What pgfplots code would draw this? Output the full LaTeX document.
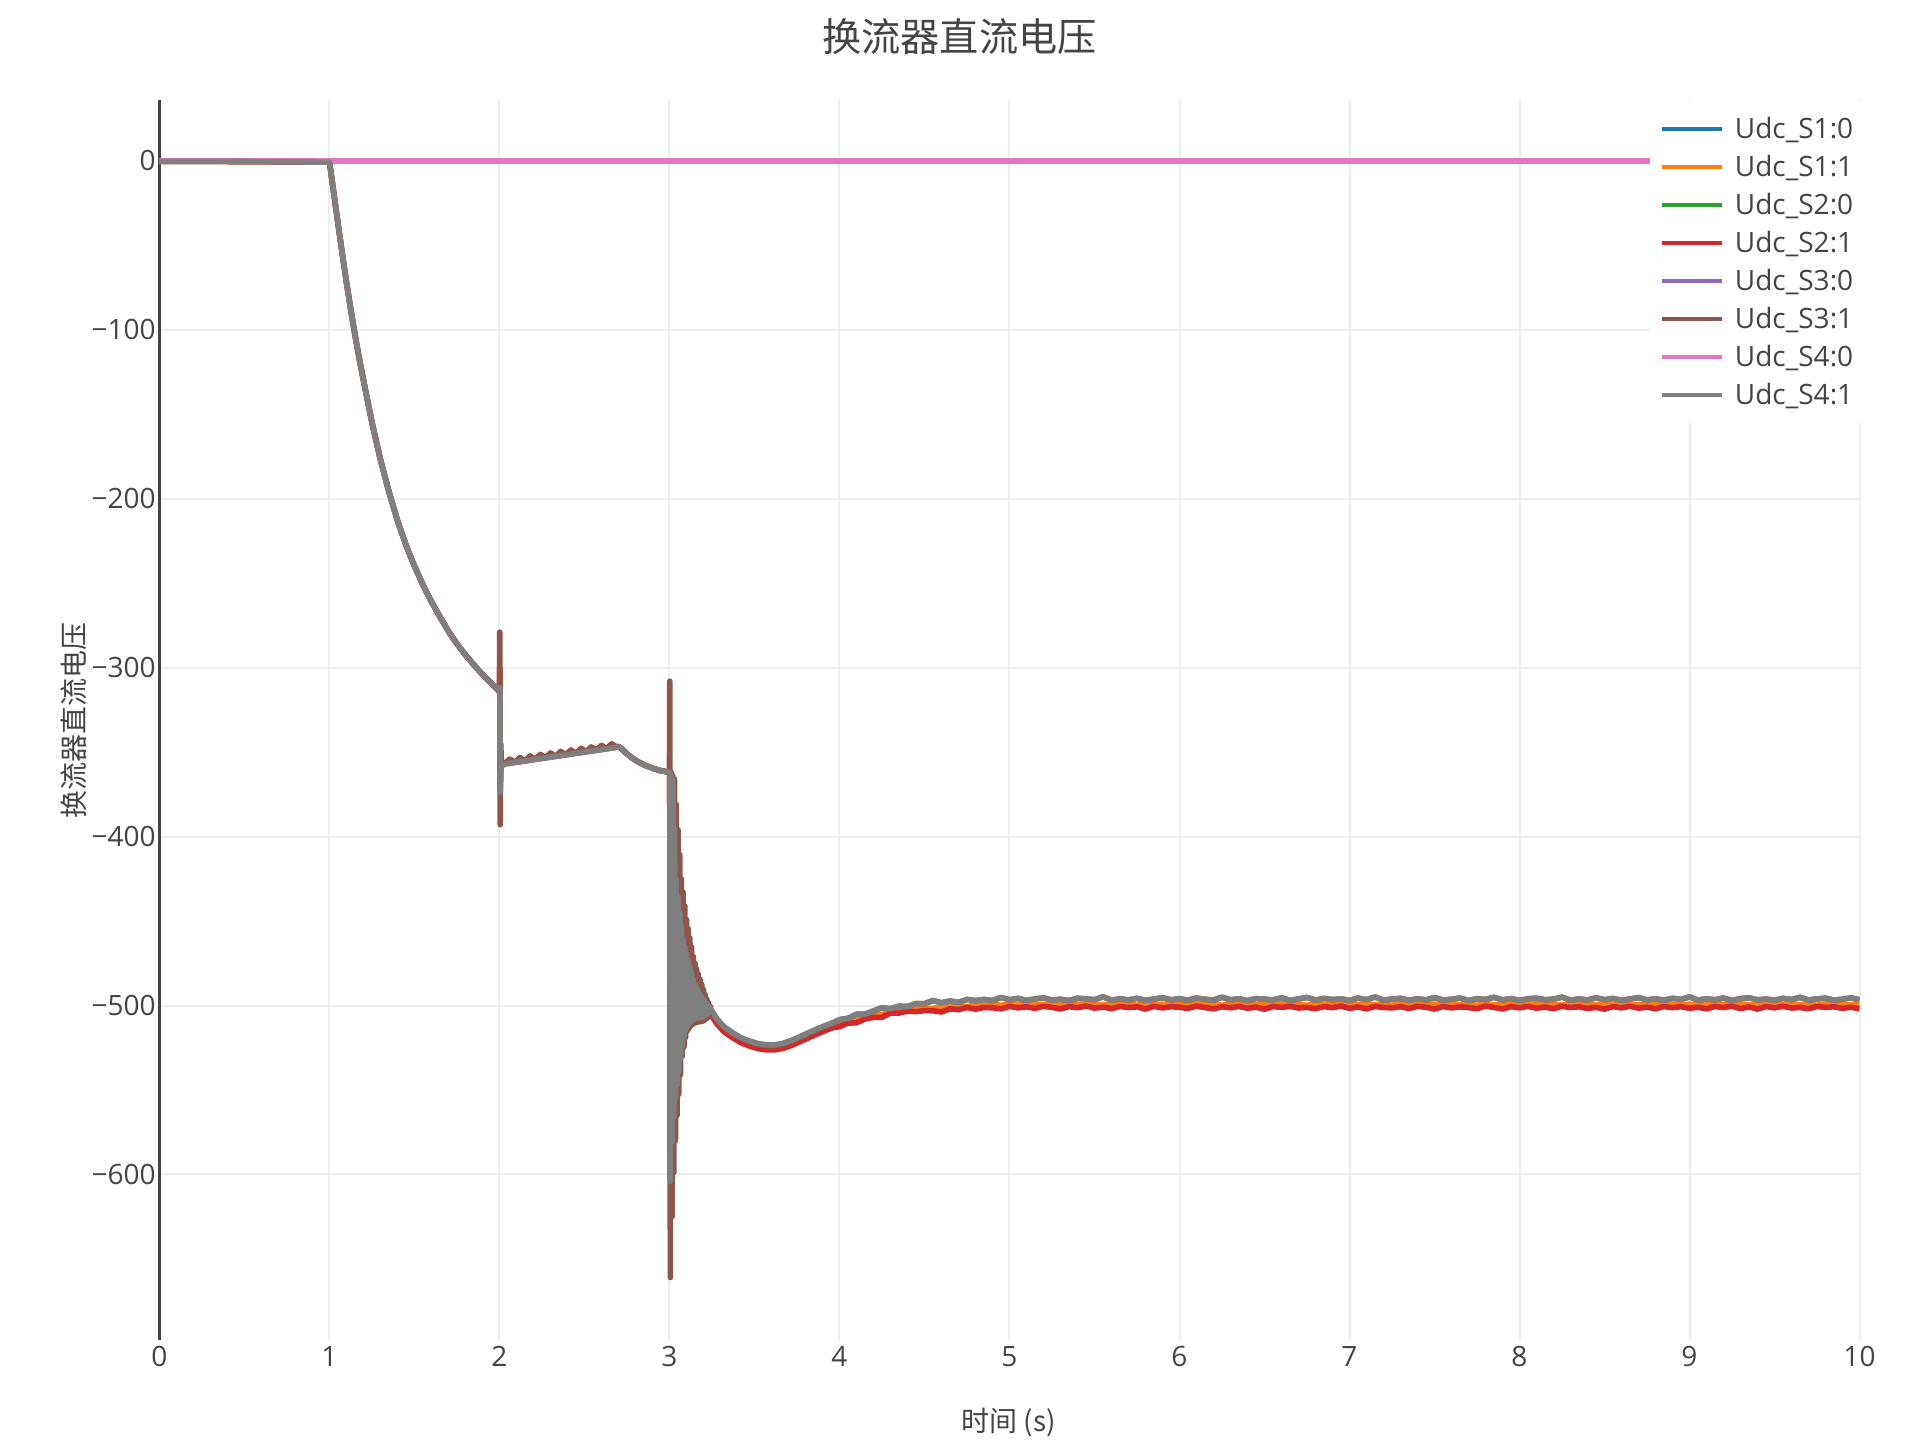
\documentclass[border=0pt]{standalone}
\usepackage{fontspec}
\usepackage{pgfplots}
\usepackage{pgfplotstable}
\pgfplotsset{compat=1.18}
\setmainfont{Open Sans}
\newfontfamily\cjk{Noto Sans CJK SC}

\definecolor{cS1a}{HTML}{1F77B4}
\definecolor{cS1b}{HTML}{FF7F0E}
\definecolor{cS2a}{HTML}{2CA02C}
\definecolor{cS2b}{HTML}{D62728}
\definecolor{cS3a}{HTML}{9467BD}
\definecolor{cS3b}{HTML}{8C564B}
\definecolor{cS4a}{HTML}{E377C2}
\definecolor{cS4b}{HTML}{7F7F7F}
\definecolor{txt}{HTML}{444444}
\definecolor{gridc}{HTML}{EEEEEE}

% t, Udc_S1:1 (a), Udc_S2:1 (b), Udc_S3:1 (c), Udc_S4:1 (d)
\pgfplotstableread{
t a b c d
0 -0.3 -0.3 -0.3 -0.3
0.5 -0.4 -0.4 -0.4 -0.4
1.0 -0.8 -0.8 -0.8 -0.8
1.01 -8 -8 -8 -8
1.025 -19 -19 -19 -19
1.05 -37 -37 -37 -37
1.075 -55 -55 -55 -55
1.10 -72 -72 -72 -72
1.125 -88 -88 -88 -88
1.15 -103 -103 -103 -103
1.175 -117 -117 -117 -117
1.20 -130 -130 -130 -130
1.25 -155 -155 -155 -155
1.30 -177 -177 -177 -177
1.35 -196 -196 -196 -196
1.40 -213 -213 -213 -213
1.45 -227.5 -227.5 -227.5 -227.5
1.50 -240 -240 -240 -240
1.55 -251 -251 -251 -251
1.60 -261 -261 -261 -261
1.65 -270 -270 -270 -270
1.70 -278.5 -278.5 -278.5 -278.5
1.75 -286 -286 -286 -286
1.80 -292.5 -292.5 -292.5 -292.5
1.85 -298.5 -298.5 -298.5 -298.5
1.90 -304 -304 -304 -304
1.95 -309 -309 -309 -309
1.995 -313.5 -313.5 -313.5 -313.5
2.000 -314.5 -314.5 -314.5 -314.5
2.0015 -300 -300 -279 -312
2.004 -372 -372 -393 -374
2.007 -358 -358 -345 -362
2.012 -358 -358 -358 -358
2.03 -357.0 -357.0 -357.0 -357.0
2.06 -354.6 -356.6 -354.1 -356.6
2.09 -356.1 -356.1 -356.1 -356.1
2.12 -353.7 -355.7 -353.2 -355.7
2.15 -355.2 -355.2 -355.2 -355.2
2.18 -352.8 -354.8 -352.3 -354.8
2.21 -354.3 -354.3 -354.3 -354.3
2.24 -351.9 -353.9 -351.4 -353.9
2.27 -353.4 -353.4 -353.4 -353.4
2.30 -351.0 -353.0 -350.5 -353.0
2.33 -352.5 -352.5 -352.5 -352.5
2.36 -350.1 -352.1 -349.6 -352.1
2.39 -351.6 -351.6 -351.6 -351.6
2.42 -349.2 -351.2 -348.7 -351.2
2.45 -350.7 -350.7 -350.7 -350.7
2.48 -348.3 -350.3 -347.8 -350.3
2.51 -349.8 -349.8 -349.8 -349.8
2.54 -347.4 -349.4 -346.9 -349.4
2.57 -348.9 -348.9 -348.9 -348.9
2.60 -346.5 -348.5 -346.0 -348.5
2.63 -348.0 -348.0 -348.0 -348.0
2.66 -345.6 -347.6 -345.1 -347.6
2.69 -347.1 -347.1 -347.1 -347.1
2.70 -346.6 -346.6 -346.6 -346.6
2.72 -348.2 -348.2 -348.2 -348.2
2.75 -351.0 -351.0 -351.0 -351.0
2.78 -353.5 -353.5 -353.5 -353.5
2.82 -356.0 -356.0 -356.0 -356.0
2.86 -358.0 -358.0 -358.0 -358.0
2.90 -359.5 -359.5 -359.5 -359.5
2.94 -360.8 -360.8 -360.8 -360.8
3.000 -362 -362 -362 -362
3.0015 -362 -362 -308 -362
3.005 -604 -604 -661 -604
3.010 -364 -364 -362 -364
3.015 -581 -581 -625 -581
3.020 -366.5 -366.5 -364 -366.5
3.025 -566 -566 -599 -566
3.030 -396 -396 -366 -396
3.035 -555 -555 -580 -555
3.040 -425.6 -425.6 -381 -425.6
3.045 -547 -547 -565 -547
3.050 -436 -436 -396 -436
3.055 -539 -539 -552.5 -539
3.060 -445 -445 -410.5 -445
3.065 -531 -531 -541 -531
3.070 -453 -453 -425 -453
3.075 -524 -524 -530 -524
3.080 -461 -461 -433 -461
3.085 -519.5 -519.5 -524.5 -519.5
3.090 -465.5 -465.5 -441 -465.5
3.095 -514.7 -514.7 -519 -514.7
3.100 -469.5 -469.5 -449 -469.5
3.105 -512.5 -512.5 -515 -512.5
3.110 -473.5 -473.5 -454.5 -473.5
3.115 -511 -511 -513.5 -511
3.120 -477.3 -477.3 -460 -477.3
3.125 -509.7 -509.7 -512.2 -509.7
3.130 -481 -481 -465.5 -481
3.135 -508.8 -508.8 -511.3 -508.8
3.140 -484.5 -484.5 -471 -484.5
3.145 -508.1 -508.1 -510.6 -508.1
3.150 -487.5 -487.5 -475 -487.5
3.155 -507.8 -507.8 -510.3 -507.8
3.160 -489.3 -489.3 -478.5 -489.3
3.165 -507.4 -507.4 -509.9 -507.4
3.170 -491.5 -491.5 -481.5 -491.5
3.175 -507.2 -507.2 -509.7 -507.2
3.180 -493.5 -493.5 -484.6 -493.5
3.185 -507 -507 -509.5 -507
3.190 -495 -495 -487.5 -495
3.195 -506.8 -506.8 -509.3 -506.8
3.200 -496.5 -496.5 -490.5 -496.5
3.205 -506.3 -506.3 -508.8 -506.3
3.210 -497.8 -497.8 -493.5 -497.8
3.215 -505.5 -505.5 -508 -505.5
3.220 -499 -499 -496.3 -499
3.225 -504.8 -504.8 -507.3 -504.8
3.230 -500.3 -500.3 -498.5 -500.3
3.235 -504 -504 -506.5 -504
3.240 -501.5 -501.5 -500.5 -501.5
3.245 -504.5 -505.5 -503 -502.5
3.28 -510 -511 -508.5 -508
3.32 -514.5 -515.5 -513 -512.5
3.37 -518 -519 -516.5 -516
3.42 -521 -522 -519.5 -519
3.47 -523 -524 -521.5 -521
3.52 -524.5 -525.5 -523 -522.5
3.57 -525.3 -526.3 -523.8 -523.3
3.62 -525.3 -526.3 -523.8 -523.3
3.67 -524.3 -525.3 -522.8 -522.3
3.72 -522.5 -523.5 -521 -520.5
3.77 -520.3 -521.3 -518.8 -518.3
3.82 -518 -519 -516.5 -516
3.87 -515.8 -516.8 -514.3 -513.8
3.93 -513.3 -514.3 -511.8 -511.3
3.97 -511.8 -512.8 -510.3 -509.8
4.00 -511.1 -512.65 -508.4 -508.4
4.05 -510.05 -510.35 -507.6 -507.6
4.10 -508.0 -510.3 -505.15 -505.15
4.15 -507.25 -507.9 -505.1 -505.1
4.20 -505.85 -507.05 -503.25 -503.25
4.25 -505.3 -507.0 -501.3 -501.3
4.30 -503.7 -504.5 -501.9 -501.9
4.35 -503.3 -504.5 -500.4 -500.4
4.40 -502.35 -503.25 -500.6 -500.6
4.45 -502.2 -503.65 -498.85 -498.85
4.50 -501.7 -503.0 -498.9 -498.9
4.55 -501.75 -503.1 -497.1 -497.1
4.60 -500.7 -503.85 -498.35 -498.35
4.65 -500.95 -502.0 -497.35 -497.35
4.70 -500.45 -502.45 -498.15 -498.15
4.75 -500.6 -501.15 -496.4 -496.4
4.80 -499.7 -502.2 -497.1 -497.1
4.85 -499.9 -501.2 -496.45 -496.45
4.90 -499.45 -501.35 -497.05 -497.05
4.95 -499.8 -502.0 -495.3 -495.3
5.00 -499.2 -500.55 -496.6 -496.6
5.05 -499.65 -501.4 -495.8 -495.8
5.10 -499.0 -500.75 -496.95 -496.95
5.15 -499.55 -501.75 -496.15 -496.15
5.20 -499.35 -500.45 -495.45 -495.45
5.25 -499.8 -501.1 -496.75 -496.75
5.30 -499.1 -502.05 -496.3 -496.3
5.35 -499.5 -500.65 -497.1 -497.1
5.40 -499.25 -501.3 -495.7 -495.7
5.45 -499.7 -500.3 -496.1 -496.1
5.50 -499.2 -501.55 -496.55 -496.55
5.55 -499.65 -500.95 -494.85 -494.85
5.60 -499.0 -501.85 -496.85 -496.85
5.65 -499.55 -500.6 -496.0 -496.0
5.70 -499.35 -501.2 -496.7 -496.7
5.75 -499.8 -500.8 -495.75 -495.75
5.80 -499.1 -502.1 -497.0 -497.0
5.85 -499.5 -500.5 -496.2 -496.2
5.90 -499.25 -501.45 -495.4 -495.4
5.95 -499.7 -500.7 -496.65 -496.65
6.00 -499.2 -501.05 -495.95 -495.95
6.05 -499.65 -501.7 -496.9 -496.9
6.10 -499.0 -500.4 -495.55 -495.55
6.15 -499.55 -501.25 -496.35 -496.35
6.20 -499.35 -501.95 -496.8 -496.8
6.25 -499.8 -500.75 -495.1 -495.1
6.30 -499.1 -501.35 -496.6 -496.6
6.35 -499.5 -500.55 -496.05 -496.05
6.40 -499.25 -501.65 -497.05 -497.05
6.45 -499.7 -501.0 -495.9 -495.9
6.50 -499.2 -502.2 -496.25 -496.25
6.55 -499.65 -500.6 -496.7 -496.7
6.60 -499.0 -501.15 -495.5 -495.5
6.65 -499.55 -500.45 -496.95 -496.95
6.70 -499.35 -501.5 -496.15 -496.15
6.75 -499.8 -501.1 -495.25 -495.25
6.80 -499.1 -501.9 -496.75 -496.75
6.85 -499.5 -500.65 -495.85 -495.85
6.90 -499.25 -501.3 -496.5 -496.5
6.95 -499.7 -500.35 -496.1 -496.1
7.00 -499.2 -501.7 -497.0 -497.0
7.05 -499.65 -500.85 -495.65 -495.65
7.10 -499.0 -502.0 -496.55 -496.55
7.15 -499.55 -500.55 -494.95 -494.95
7.20 -499.35 -501.2 -496.85 -496.85
7.25 -499.8 -501.4 -496.2 -496.2
7.30 -499.1 -500.7 -495.8 -495.8
7.35 -499.5 -501.8 -496.9 -496.9
7.40 -499.25 -500.5 -496.0 -496.0
7.45 -499.7 -501.05 -496.65 -496.65
7.50 -499.2 -502.1 -495.35 -495.35
7.55 -499.65 -500.6 -496.8 -496.8
7.60 -499.0 -501.45 -496.3 -496.3
7.65 -499.55 -500.8 -495.6 -495.6
7.70 -499.35 -501.25 -497.05 -497.05
7.75 -499.8 -501.85 -495.95 -495.95
7.80 -499.1 -500.4 -496.45 -496.45
7.85 -499.5 -501.15 -495.15 -495.15
7.90 -499.25 -502.05 -496.7 -496.7
7.95 -499.7 -500.7 -495.9 -495.9
8.00 -499.2 -501.35 -497.0 -497.0
8.05 -499.65 -500.55 -496.05 -496.05
8.10 -499.0 -501.6 -495.7 -495.7
8.15 -499.55 -500.95 -496.6 -496.6
8.20 -499.35 -501.9 -496.25 -496.25
8.25 -499.8 -500.5 -495.05 -495.05
8.30 -499.1 -501.2 -496.9 -496.9
8.35 -499.5 -500.75 -496.1 -496.1
8.40 -499.25 -501.75 -496.75 -496.75
8.45 -499.7 -501.1 -495.45 -495.45
8.50 -499.2 -502.15 -496.55 -496.55
8.55 -499.65 -500.65 -495.85 -495.85
8.60 -499.0 -501.4 -496.95 -496.95
8.65 -499.55 -500.45 -496.15 -496.15
8.70 -499.35 -501.55 -495.3 -495.3
8.75 -499.8 -501.0 -496.7 -496.7
8.80 -499.1 -501.95 -496.0 -496.0
8.85 -499.5 -500.6 -496.85 -496.85
8.90 -499.25 -501.3 -495.75 -495.75
8.95 -499.7 -500.7 -496.4 -496.4
9.00 -499.2 -501.65 -494.9 -494.9
9.05 -499.65 -501.05 -496.8 -496.8
9.10 -499.0 -502.0 -496.05 -496.05
9.15 -499.55 -500.55 -496.6 -496.6
9.20 -499.35 -501.25 -495.6 -495.6
9.25 -499.8 -500.4 -497.0 -497.0
9.30 -499.1 -501.85 -495.95 -495.95
9.35 -499.5 -500.85 -495.4 -495.4
9.40 -499.25 -502.1 -496.65 -496.65
9.45 -499.7 -500.65 -496.2 -496.2
9.50 -499.2 -501.35 -496.9 -496.9
9.55 -499.65 -500.5 -495.8 -495.8
9.60 -499.0 -501.5 -496.5 -496.5
9.65 -499.55 -501.15 -495.2 -495.2
9.70 -499.35 -501.9 -496.75 -496.75
9.75 -499.8 -500.6 -496.1 -496.1
9.80 -499.1 -501.1 -495.65 -495.65
9.85 -499.5 -500.75 -496.85 -496.85
9.90 -499.25 -501.7 -496.25 -496.25
9.95 -499.7 -500.95 -495.5 -495.5
10.00 -499.2 -502.05 -496.6 -496.6
}\udcdata

\begin{document}
\begin{tikzpicture}
\path[use as bounding box] (-39.875pt,-25pt) rectangle (440.125pt,335pt);
\begin{axis}[
    at={(0pt,0pt)}, anchor=south west,
    scale only axis, width=425pt, height=310pt,
    xmin=0, xmax=10, ymin=-698, ymax=36,
    axis x line*=bottom, axis y line*=left,
    x axis line style={draw=none},
    y axis line style={draw=txt, line width=0.55pt},
    xtick={0,1,...,10},
    ytick={-600,-500,-400,-300,-200,-100,0},
    yticklabels={−600,−500,−400,−300,−200,−100,0},
    major tick length=0pt,
    grid=major,
    grid style={draw=gridc, line width=0.5pt},
    tick label style={font=\fontsize{7}{8}\selectfont, text=txt},
    /pgf/number format/assume math mode=true,
    xticklabel style={anchor=base, yshift=-6.5pt},
    yticklabel style={anchor=east, inner sep=0pt, xshift=-0.75pt},
    every axis plot/.append style={line width=1.4pt, line join=round},
    legend cell align=left,
    legend image code/.code={\draw[#1, line width=0.9pt] (0pt,0pt) -- (15pt,0pt);},
    legend style={
        at={(0.8765,1)}, anchor=north west,
        draw=none, fill=white,
        inner xsep=2.5pt, inner ysep=4.5pt,
        row sep=4.5pt, column sep=2.75pt,
        font=\fontsize{7}{8}\selectfont, text=txt,
        nodes={inner sep=0pt, text height=5pt, text depth=0pt},
    },
]
\addplot[cS1a] coordinates {(0,0) (10,0)};
\addlegendentry{Udc\_S1:0}
\addplot[cS1b] table[x=t, y=a] {\udcdata};
\addlegendentry{Udc\_S1:1}
\addplot[cS2a] coordinates {(0,0) (10,0)};
\addlegendentry{Udc\_S2:0}
\addplot[cS2b] table[x=t, y=b] {\udcdata};
\addlegendentry{Udc\_S2:1}
\addplot[cS3a] coordinates {(0,0) (10,0)};
\addlegendentry{Udc\_S3:0}
\addplot[cS3b] table[x=t, y=c] {\udcdata};
\addlegendentry{Udc\_S3:1}
\addplot[cS4a] coordinates {(0,0) (10,0)};
\addlegendentry{Udc\_S4:0}
\addplot[cS4b] table[x=t, y=d] {\udcdata};
\addlegendentry{Udc\_S4:1}
\end{axis}
\node[text=txt, font=\cjk\fontsize{9.8}{11}\selectfont] at (200pt,325.75pt) {换流器直流电压};
\node[text=txt, font=\cjk\fontsize{7}{8}\selectfont] at (212.3pt,-20.75pt) {时间 (s)};
\node[text=txt, font=\cjk\fontsize{7}{8}\selectfont, rotate=90] at (-21.5pt,155pt) {换流器直流电压};
\end{tikzpicture}
\end{document}
